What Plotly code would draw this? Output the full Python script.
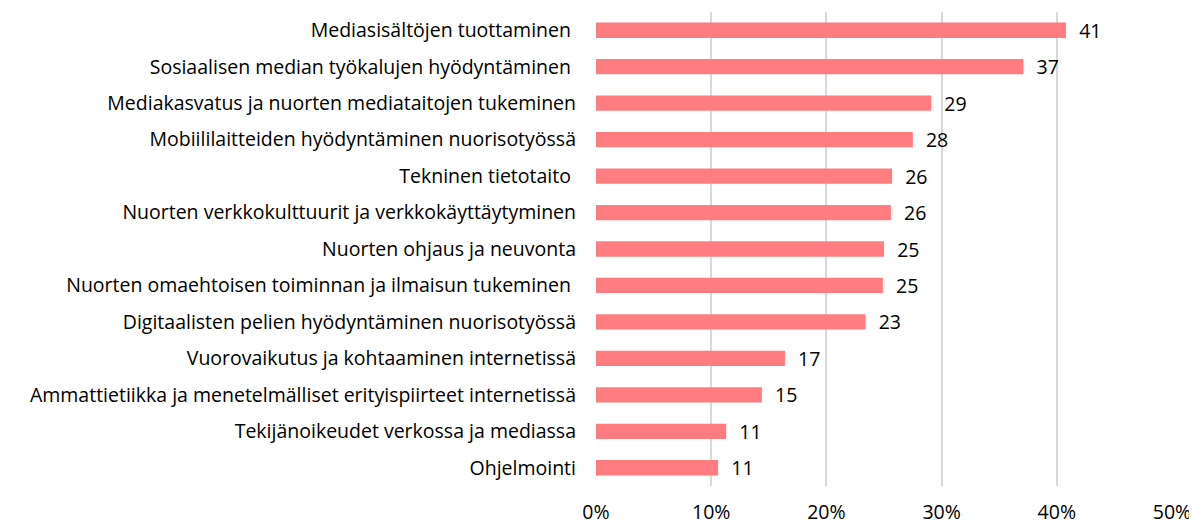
import plotly.graph_objects as go

categories = [
    "Mediasisältöjen tuottaminen\u00a0",
    "Sosiaalisen median työkalujen hyödyntäminen\u00a0",
    "Mediakasvatus ja nuorten mediataitojen tukeminen",
    "Mobiililaitteiden hyödyntäminen nuorisotyössä",
    "Tekninen tietotaito\u00a0",
    "Nuorten verkkokulttuurit ja verkkokäyttäytyminen",
    "Nuorten ohjaus ja neuvonta",
    "Nuorten omaehtoisen toiminnan ja ilmaisun tukeminen\u00a0",
    "Digitaalisten pelien hyödyntäminen nuorisotyössä",
    "Vuorovaikutus ja kohtaaminen internetissä",
    "Ammattietiikka ja menetelmälliset erityispiirteet internetissä",
    "Tekijänoikeudet verkossa ja mediassa",
    "Ohjelmointi",
]
values = [40.8, 37.1, 29.1, 27.5, 25.7, 25.6, 25.0, 24.9, 23.4, 16.4, 14.4, 11.3, 10.6]
labels = ["41", "37", "29", "28", "26", "26", "25", "25", "23", "17", "15", "11", "11"]
tick_vals = [0, 10, 20, 30, 40, 50]
tick_text = ["0%", "10%", "20%", "30%", "40%", "50%"]

FONT = "'Open Sans', sans-serif"
FS = 19.5

fig = go.Figure(go.Bar(
    y=categories[::-1],
    x=values[::-1],
    orientation="h",
    marker=dict(color="#FF7C80", line=dict(width=0)),
    width=0.42,
    text=["\u00a0\u00a0" + t for t in labels[::-1]],
    textposition="outside",
    constraintext="none",
    cliponaxis=False,
    textfont=dict(family=FONT, size=FS, color="#000000"),
))

fig.update_layout(
    width=1197, height=524,
    margin=dict(l=588, r=33, t=4, b=46),
    paper_bgcolor="white", plot_bgcolor="white",
    showlegend=False,
    font=dict(family=FONT, size=FS, color="#000000"),
)
fig.update_xaxes(
    range=[0, 50], tickvals=tick_vals, ticktext=tick_text,
    showgrid=True, gridcolor="#D9D9D9", gridwidth=2,
    zeroline=False, showline=False,
    ticks="", ticklabelstandoff=12,
    tickfont=dict(family=FONT, size=FS, color="#000000"),
)
fig.update_yaxes(
    showgrid=False, zeroline=False, showline=False,
    ticks="", ticklabelstandoff=19,
    tickfont=dict(family=FONT, size=FS, color="#000000"),
)
fig.write_html("out.html")
